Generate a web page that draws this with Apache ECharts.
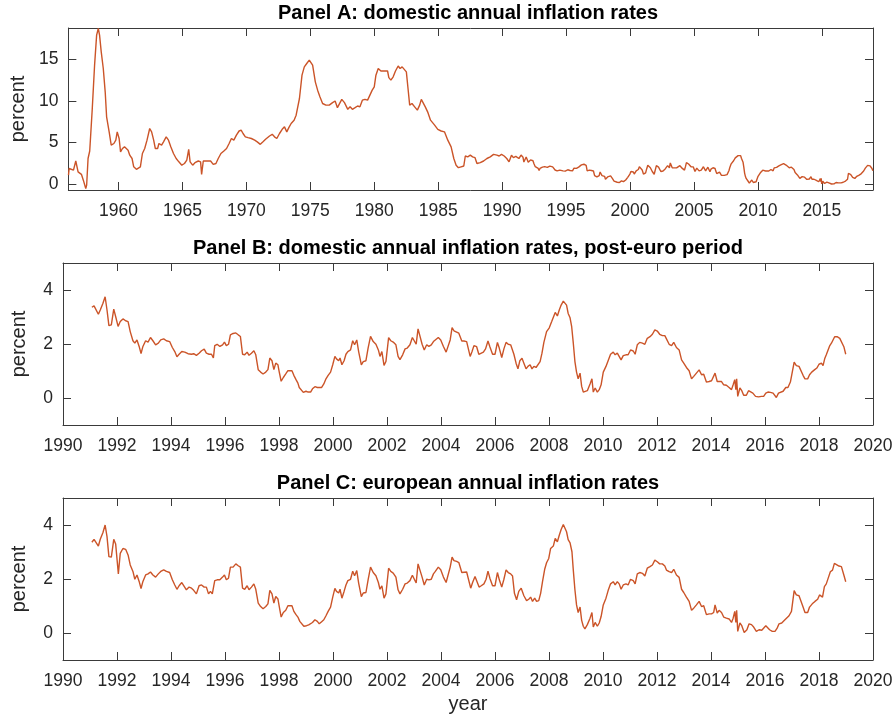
<!DOCTYPE html>
<html>
<head>
<meta charset="utf-8">
<script src="https://cdn.jsdelivr.net/npm/echarts@6/dist/echarts.min.js"></script>
<style>
  html, body { margin: 0; padding: 0; background: #fff; }
  #chart { width: 896px; height: 722px; }
</style>
</head>
<body>
<div id="chart"></div>
<script>
// panel A, part before 1991 (decimal years / percent)
var yearsEarly = [1956.09,1956.14,1956.27,1956.48,1956.66,1956.84,1957.10,1957.25,1957.44,1957.51,1957.62,1957.75,1957.95,1958.13,1958.29,1958.42,1958.52,1958.65,1958.81,1958.96,
  1959.07,1959.17,1959.27,1959.43,1959.64,1959.79,1959.90,1960.05,1960.16,1960.31,1960.47,1960.62,1960.75,1960.88,1961.06,1961.19,1961.40,1961.55,1961.71,1961.87,
  1962.05,1962.23,1962.44,1962.59,1962.75,1962.88,1963.06,1963.16,1963.37,1963.52,1963.73,1963.91,1964.09,1964.30,1964.51,1964.72,1964.95,1965.16,1965.34,1965.49,
  1965.60,1965.80,1965.98,1966.24,1966.42,1966.50,1966.63,1966.89,1967.20,1967.41,1967.62,1967.80,1968.01,1968.24,1968.45,1968.65,1968.83,1969.02,1969.22,1969.43,
  1969.59,1969.74,1969.92,1970.13,1970.39,1970.65,1970.85,1971.09,1971.30,1971.50,1971.81,1972.02,1972.20,1972.38,1972.59,1972.80,1972.98,1973.16,1973.32,1973.50,
  1973.73,1973.89,1974.04,1974.15,1974.35,1974.53,1974.72,1974.92,1975.05,1975.18,1975.39,1975.57,1975.75,1975.96,1976.22,1976.48,1976.61,1976.74,1976.94,1977.12,
  1977.25,1977.46,1977.67,1977.93,1978.11,1978.29,1978.50,1978.70,1978.88,1979.07,1979.27,1979.48,1979.66,1979.84,1980.00,1980.13,1980.31,1980.52,1980.83,1981.04,
  1981.14,1981.30,1981.48,1981.66,1981.87,1982.02,1982.18,1982.33,1982.51,1982.64,1982.77,1982.95,1983.16,1983.37,1983.55,1983.68,1983.83,1983.99,1984.20,1984.40,
  1984.72,1984.97,1985.23,1985.49,1985.75,1986.01,1986.22,1986.40,1986.58,1986.79,1987.00,1987.12,1987.31,1987.51,1987.69,1987.88,1988.03,1988.29,1988.55,1988.81,
  1989.07,1989.33,1989.59,1989.77,1989.95,1990.16,1990.36,1990.54,1990.73,1990.88];
var inflEarly = [1.1,1.9,2.1,1.7,2.8,1.5,1.2,0.5,-0.5,-0.1,3.1,4.0,9.1,14.3,17.9,18.7,17.9,15.9,13.9,11.1,
  8.1,7.9,6.3,4.7,4.9,5.3,6.3,5.5,3.9,4.3,4.5,4.7,4.1,3.5,3.1,2.1,1.8,1.7,2.1,3.7,
  4.3,5.3,6.7,6.3,5.3,4.3,4.3,4.9,4.7,5.1,5.7,5.3,4.5,3.7,3.1,2.7,2.3,2.5,2.9,4.2,
  2.7,2.3,2.6,2.8,2.7,1.2,2.8,2.8,2.8,2.4,2.5,3.1,3.7,4.0,4.3,4.9,5.5,5.3,5.9,6.4,
  6.5,6.1,5.7,5.6,5.5,5.3,5.1,4.8,5.1,5.4,5.8,6.0,5.7,5.5,6.1,6.6,6.9,6.3,6.8,7.3,
  7.7,8.3,8.5,10.3,13.1,14.1,14.5,14.9,15.1,14.3,12.3,11.3,10.5,9.7,9.5,9.5,9.3,9.8,10.0,9.2,
  9.1,10.2,9.8,9.0,9.3,9.0,9.2,9.4,9.3,10.1,10.2,10.1,10.7,11.3,11.7,13.1,13.9,13.6,13.6,13.6,
  12.8,12.5,12.9,13.6,14.2,13.9,14.1,13.9,13.5,11.5,9.5,9.7,9.3,8.9,9.5,10.2,10.4,9.3,8.6,7.7,
  7.1,6.6,6.4,6.3,5.3,4.5,3.1,2.3,2.0,2.1,2.2,3.4,3.3,3.5,3.3,3.2,2.5,2.6,2.8,3.1,
  3.3,3.6,3.5,3.4,3.6,3.4,3.1,2.7,3.5,3.2];

// domestic, post-euro period (panel B, also the tail of panel A)
var yearsDom = [1991.07,1991.15,1991.21,1991.31,1991.38,1991.48,1991.56,1991.63,1991.70,1991.79,1991.88,1991.95,1992.04,1992.12,1992.22,1992.32,1992.41,1992.49,1992.59,1992.66,
  1992.74,1992.82,1992.89,1992.96,1993.06,1993.15,1993.24,1993.33,1993.43,1993.53,1993.62,1993.73,1993.83,1993.95,1994.05,1994.14,1994.22,1994.30,1994.40,1994.51,
  1994.63,1994.76,1994.84,1994.94,1995.04,1995.13,1995.23,1995.31,1995.41,1995.50,1995.57,1995.62,1995.71,1995.81,1995.91,1995.98,1996.05,1996.13,1996.20,1996.30,
  1996.40,1996.49,1996.57,1996.65,1996.73,1996.82,1996.89,1996.98,1997.07,1997.14,1997.23,1997.32,1997.41,1997.51,1997.59,1997.66,1997.74,1997.81,1997.88,1997.96,
  1998.01,1998.08,1998.16,1998.25,1998.33,1998.40,1998.48,1998.55,1998.63,1998.70,1998.75,1998.82,1998.90,1999.00,1999.08,1999.17,1999.24,1999.33,1999.42,1999.49,
  1999.58,1999.66,1999.74,1999.82,1999.91,1999.99,2000.07,2000.13,2000.21,2000.26,2000.33,2000.41,2000.48,2000.55,2000.65,2000.73,2000.80,2000.88,2000.95,2001.05,
  2001.12,2001.22,2001.30,2001.39,2001.49,2001.59,2001.68,2001.74,2001.81,2001.89,2001.96,2002.06,2002.14,2002.23,2002.33,2002.41,2002.48,2002.58,2002.67,2002.75,
  2002.85,2002.94,2003.00,2003.08,2003.15,2003.22,2003.30,2003.38,2003.47,2003.55,2003.64,2003.72,2003.79,2003.90,2003.99,2004.09,2004.19,2004.26,2004.34,2004.41,
  2004.48,2004.58,2004.66,2004.77,2004.85,2004.95,2005.01,2005.08,2005.15,2005.22,2005.32,2005.40,2005.47,2005.57,2005.65,2005.74,2005.81,2005.91,2006.00,2006.09,
  2006.16,2006.25,2006.33,2006.41,2006.49,2006.58,2006.65,2006.70,2006.78,2006.85,2006.92,2007.00,2007.07,2007.15,2007.22,2007.30,2007.37,2007.44,2007.52,2007.59,
  2007.67,2007.74,2007.81,2007.91,2008.01,2008.10,2008.16,2008.23,2008.31,2008.38,2008.45,2008.53,2008.60,2008.65,2008.71,2008.78,2008.84,2008.90,2008.96,2009.02,
  2009.08,2009.15,2009.21,2009.27,2009.33,2009.42,2009.52,2009.59,2009.64,2009.71,2009.79,2009.86,2009.93,2010.01,2010.11,2010.19,2010.28,2010.38,2010.45,2010.53,
  2010.60,2010.67,2010.75,2010.85,2010.93,2011.02,2011.12,2011.19,2011.27,2011.36,2011.46,2011.55,2011.64,2011.74,2011.83,2011.92,2012.01,2012.10,2012.20,2012.29,
  2012.35,2012.45,2012.54,2012.62,2012.72,2012.82,2012.91,2012.99,2013.09,2013.19,2013.28,2013.36,2013.46,2013.56,2013.65,2013.73,2013.83,2013.93,2014.02,2014.08,
  2014.15,2014.23,2014.30,2014.39,2014.47,2014.57,2014.67,2014.76,2014.82,2014.88,2014.92,2014.95,2014.99,2015.07,2015.14,2015.21,2015.31,2015.39,2015.46,2015.55,
  2015.65,2015.76,2015.87,2015.95,2016.03,2016.11,2016.20,2016.30,2016.37,2016.42,2016.50,2016.57,2016.67,2016.77,2016.85,2016.94,2017.01,2017.08,2017.16,2017.26,
  2017.33,2017.41,2017.48,2017.58,2017.65,2017.73,2017.83,2017.92,2018.00,2018.09,2018.15,2018.21,2018.27,2018.34,2018.40,2018.46,2018.52,2018.58,2018.67,2018.77,
  2018.84,2018.92,2018.99];
var inflDom = [3.36,3.41,3.36,3.10,3.26,3.51,3.75,3.26,2.68,2.71,3.29,3.02,2.65,2.83,2.93,2.86,2.83,2.46,2.12,2.03,
  2.15,1.91,1.65,1.91,2.12,2.07,2.24,2.12,1.97,2.03,2.15,2.19,2.12,2.09,1.87,1.72,1.53,1.62,1.72,1.70,
  1.64,1.62,1.64,1.58,1.66,1.75,1.81,1.66,1.62,1.62,1.48,1.94,1.99,1.91,1.97,2.07,1.94,1.99,2.34,2.39,
  2.41,2.34,2.28,1.62,1.60,1.70,1.58,1.66,1.75,1.60,1.05,0.96,0.89,0.96,1.05,1.48,1.38,1.05,1.29,1.23,
  0.96,0.62,0.76,0.89,1.01,0.96,1.01,0.84,0.68,0.55,0.39,0.37,0.21,0.25,0.22,0.22,0.34,0.42,0.39,0.32,
  0.39,0.52,0.71,0.84,0.96,1.23,1.54,1.45,1.38,1.48,1.23,1.38,1.62,1.72,1.78,2.12,1.97,2.15,1.72,1.23,
  1.35,1.38,1.85,2.28,2.09,1.99,1.78,1.54,1.72,1.21,1.35,2.24,2.12,2.07,1.97,1.54,1.42,1.60,1.82,1.85,
  1.97,2.24,2.28,1.99,2.56,2.52,1.99,1.78,1.97,1.91,1.97,2.09,2.14,2.24,2.15,1.91,1.70,1.70,2.15,2.61,
  2.49,2.44,2.40,2.11,2.11,2.09,2.06,1.54,1.72,1.94,1.90,1.62,1.68,1.70,1.82,2.11,1.90,1.62,1.62,2.06,
  1.84,1.50,1.82,2.06,1.99,1.97,1.90,1.62,1.29,1.08,1.38,1.47,1.29,1.08,1.17,1.23,1.08,1.17,1.13,1.17,
  1.35,1.66,2.06,2.46,2.60,2.83,2.89,3.17,3.04,3.26,3.44,3.59,3.60,3.44,3.13,2.97,2.64,2.03,1.35,0.96,
  0.71,0.92,0.43,0.22,0.15,0.27,0.52,0.71,0.22,0.37,0.22,0.31,0.49,0.96,1.17,1.38,1.62,1.70,1.60,1.66,
  1.60,1.41,1.57,1.60,1.60,1.78,1.74,1.62,1.97,2.06,2.03,1.99,2.21,2.27,2.36,2.52,2.48,2.36,2.31,2.31,
  2.19,1.99,1.94,2.06,1.87,1.78,1.41,1.29,1.13,1.01,0.71,0.80,0.92,1.04,0.86,0.88,0.59,0.61,0.64,0.64,
  0.92,0.61,0.68,0.61,0.49,0.47,0.39,0.31,0.49,0.68,0.31,0.71,0.06,0.37,0.27,0.10,0.10,0.27,0.27,0.18,
  0.06,0.04,0.06,0.06,0.18,0.22,0.21,0.18,0.15,0.02,0.18,0.25,0.25,0.39,0.39,0.59,0.61,1.33,1.20,1.17,
  1.17,0.84,0.71,0.71,0.86,0.96,1.04,1.11,1.25,1.29,1.20,1.45,1.60,1.66,1.94,2.03,2.06,2.27,2.27,2.21,
  2.19,1.90,1.62];

// european (panel C)
var yearsEuro = [1991.07,1991.15,1991.21,1991.31,1991.38,1991.48,1991.56,1991.63,1991.70,1991.79,1991.88,1991.95,1992.05,1992.12,1992.22,1992.32,1992.41,1992.49,1992.59,1992.66,
  1992.74,1992.82,1992.89,1992.96,1993.06,1993.15,1993.24,1993.33,1993.43,1993.53,1993.62,1993.73,1993.83,1993.95,1994.05,1994.14,1994.22,1994.30,1994.40,1994.47,
  1994.57,1994.67,1994.76,1994.84,1994.94,1995.04,1995.13,1995.23,1995.31,1995.39,1995.46,1995.53,1995.62,1995.71,1995.81,1995.91,1995.98,1996.05,1996.13,1996.20,
  1996.30,1996.40,1996.49,1996.57,1996.65,1996.73,1996.82,1996.89,1996.98,1997.07,1997.14,1997.23,1997.32,1997.41,1997.51,1997.59,1997.66,1997.74,1997.81,1997.88,
  1997.96,1998.01,1998.08,1998.16,1998.25,1998.33,1998.40,1998.48,1998.55,1998.63,1998.70,1998.77,1998.84,1998.92,1999.02,1999.10,1999.17,1999.24,1999.33,1999.42,
  1999.49,1999.58,1999.66,1999.74,1999.82,1999.91,1999.99,2000.07,2000.13,2000.21,2000.26,2000.33,2000.41,2000.48,2000.55,2000.65,2000.73,2000.80,2000.88,2000.95,
  2001.05,2001.12,2001.22,2001.30,2001.39,2001.49,2001.59,2001.68,2001.74,2001.81,2001.89,2001.96,2002.06,2002.14,2002.23,2002.33,2002.41,2002.48,2002.58,2002.67,
  2002.75,2002.85,2002.94,2003.00,2003.08,2003.15,2003.22,2003.30,2003.38,2003.47,2003.55,2003.64,2003.72,2003.79,2003.90,2003.99,2004.09,2004.19,2004.26,2004.34,
  2004.41,2004.48,2004.58,2004.66,2004.77,2004.95,2005.01,2005.10,2005.17,2005.26,2005.32,2005.41,2005.49,2005.59,2005.67,2005.74,2005.81,2005.91,2006.00,2006.09,
  2006.16,2006.25,2006.33,2006.41,2006.49,2006.58,2006.65,2006.72,2006.80,2006.88,2006.97,2007.07,2007.17,2007.25,2007.32,2007.39,2007.47,2007.54,2007.62,2007.69,
  2007.76,2007.84,2007.91,2007.99,2008.06,2008.16,2008.23,2008.31,2008.38,2008.45,2008.53,2008.60,2008.65,2008.71,2008.78,2008.85,2008.90,2008.96,2009.02,2009.08,
  2009.15,2009.21,2009.27,2009.33,2009.42,2009.52,2009.59,2009.64,2009.71,2009.79,2009.86,2009.93,2010.01,2010.11,2010.19,2010.28,2010.38,2010.45,2010.53,2010.60,
  2010.67,2010.75,2010.85,2010.93,2011.02,2011.12,2011.19,2011.27,2011.36,2011.46,2011.55,2011.64,2011.74,2011.83,2011.92,2012.01,2012.10,2012.20,2012.29,2012.35,
  2012.45,2012.54,2012.62,2012.72,2012.82,2012.91,2012.99,2013.09,2013.19,2013.28,2013.36,2013.46,2013.56,2013.65,2013.73,2013.83,2013.93,2014.02,2014.10,2014.15,
  2014.23,2014.30,2014.39,2014.47,2014.57,2014.67,2014.76,2014.82,2014.88,2014.92,2014.95,2014.99,2015.07,2015.14,2015.23,2015.33,2015.41,2015.50,2015.58,2015.68,
  2015.78,2015.88,2015.95,2016.03,2016.10,2016.17,2016.27,2016.37,2016.45,2016.52,2016.62,2016.72,2016.79,2016.89,2016.98,2017.08,2017.16,2017.26,2017.33,2017.41,
  2017.48,2017.58,2017.65,2017.75,2017.85,2017.95,2018.02,2018.13,2018.20,2018.27,2018.35,2018.42,2018.50,2018.57,2018.64,2018.74,2018.83,2018.92,2018.99];
var inflEuro = [3.36,3.47,3.45,3.22,3.47,3.72,4.00,3.57,2.83,2.81,3.47,3.30,2.19,2.95,3.13,3.10,2.89,2.52,2.28,1.99,
  2.15,1.91,1.65,1.91,2.15,2.19,2.26,2.15,2.07,2.19,2.28,2.34,2.28,2.24,1.97,1.78,1.62,1.75,1.87,1.82,
  1.60,1.70,1.66,1.58,1.45,1.75,1.78,1.70,1.70,1.45,1.54,1.45,1.94,1.97,1.97,2.07,2.15,1.97,2.03,2.44,
  2.44,2.56,2.49,2.44,1.66,1.62,1.75,1.60,1.70,1.82,1.62,1.11,0.98,0.90,0.98,1.08,1.58,1.45,1.11,1.35,
  1.26,0.98,0.59,0.76,0.84,1.01,0.96,1.01,0.80,0.68,0.59,0.43,0.37,0.25,0.27,0.30,0.25,0.39,0.49,0.43,
  0.34,0.42,0.49,0.64,0.80,0.96,1.33,1.65,1.54,1.48,1.62,1.29,1.54,1.78,1.94,1.99,2.29,2.12,2.31,1.85,
  1.35,1.48,1.50,1.97,2.44,2.24,2.12,1.87,1.62,1.75,1.29,1.45,2.40,2.28,2.22,2.07,1.60,1.45,1.62,1.82,
  1.85,1.94,2.14,2.14,1.85,2.56,2.56,2.07,1.78,1.99,1.97,1.99,2.19,2.28,2.44,2.34,2.07,1.87,1.94,2.44,
  2.81,2.68,2.65,2.61,2.24,2.26,2.24,1.66,1.87,2.09,2.03,1.70,1.75,1.82,1.99,2.29,2.03,1.75,1.75,2.24,
  1.97,1.70,1.99,2.34,2.24,2.19,2.11,1.47,1.23,1.54,1.66,1.38,1.20,1.25,1.33,1.17,1.29,1.17,1.20,1.47,
  1.90,2.36,2.60,2.76,3.13,3.22,3.50,3.38,3.62,3.83,4.02,4.02,3.75,3.46,3.34,3.01,2.33,1.60,1.04,0.76,
  0.96,0.47,0.25,0.15,0.31,0.55,0.76,0.22,0.39,0.25,0.37,0.61,1.04,1.29,1.57,1.82,1.90,1.78,1.90,1.82,
  1.62,1.78,1.82,1.78,1.99,1.94,1.82,2.19,2.24,2.21,2.11,2.40,2.46,2.52,2.70,2.64,2.56,2.56,2.48,2.33,
  2.27,2.24,2.36,2.15,2.06,1.62,1.50,1.33,1.17,0.84,0.92,1.04,1.17,0.98,1.01,0.68,0.71,0.71,0.76,1.04,
  0.74,0.84,0.76,0.59,0.55,0.52,0.39,0.55,0.80,0.39,0.84,0.06,0.37,0.27,0.02,0.12,0.34,0.31,0.22,0.06,
  0.12,0.10,0.15,0.27,0.31,0.12,0.06,0.06,0.18,0.34,0.37,0.47,0.47,0.64,0.80,1.57,1.41,1.38,1.38,0.96,
  0.76,0.76,0.96,1.08,1.17,1.25,1.41,1.33,1.72,1.82,2.06,2.27,2.33,2.58,2.56,2.48,2.46,2.15,1.90];

var titles = ['Panel A: domestic annual inflation rates',
  'Panel B: domestic annual inflation rates, post-euro period',
  'Panel C: european annual inflation rates'];
var xTicksA = [1960,1965,1970,1975,1980,1985,1990,1995,2000,2005,2010,2015];
var yTicksA = [0,5,10,15];
var yTicksBC = [0,2,4];

function pairs(xs, ys){
  var out = [];
  for(var i = 0; i < xs.length; i++){ out.push([xs[i], ys[i]]); }
  return out;
}
function plain(v){ return String(v); }

var font = 'Liberation Sans, Arial, Helvetica, sans-serif';
var axisColor = '#262626';
var boxColor = '#3a3a3a';
var lineColor = '#CB5428';

var grids = [
  {left: 63, top: 28, width: 810, height: 162},
  {left: 63, top: 263, width: 810, height: 162},
  {left: 63, top: 498, width: 810, height: 162}
];
var xRanges = [[1956.08, 2019.0], [1990, 2020], [1990, 2020]];
var yRanges = [[-0.68, 18.76], [-1, 5], [-1, 5]];

var xAxes = [], yAxes = [], series = [], titleOpts = [];
var panelData = [
  pairs(yearsEarly.concat(yearsDom), inflEarly.concat(inflDom)),
  pairs(yearsDom, inflDom),
  pairs(yearsEuro, inflEuro)
];

for(var p = 0; p < 3; p++){
  var xTicks = p === 0 ? xTicksA : null;
  var yTicks = p === 0 ? yTicksA : yTicksBC;
  var sides = ['bottom', 'top'];
  for(var s = 0; s < 2; s++){
    var ax = {
      type: 'value', gridIndex: p, position: sides[s],
      min: xRanges[p][0], max: xRanges[p][1],
      splitLine: {show: false},
      axisLine: {show: true, onZero: false, lineStyle: {color: boxColor, width: 1}},
      axisTick: {show: true, inside: true, length: 8, lineStyle: {color: boxColor}},
      axisLabel: {show: s === 0, color: axisColor, fontSize: 17.5, fontFamily: font, margin: 12, formatter: plain}
    };
    if(xTicks){
      ax.axisTick.customValues = xTicks;
      ax.axisLabel.customValues = xTicks;
    } else {
      ax.interval = 2;
    }
    if(p === 2 && s === 0){
      ax.name = 'year';
      ax.nameLocation = 'middle';
      ax.nameGap = 34;
      ax.nameTextStyle = {color: axisColor, fontSize: 20, fontFamily: font};
    }
    xAxes.push(ax);
  }
  var ysides = ['left', 'right'];
  for(var s2 = 0; s2 < 2; s2++){
    var ay = {
      type: 'value', gridIndex: p, position: ysides[s2],
      min: yRanges[p][0], max: yRanges[p][1],
      splitLine: {show: false},
      axisLine: {show: true, onZero: false, lineStyle: {color: boxColor, width: 1}},
      axisTick: {show: true, inside: true, length: 8, lineStyle: {color: boxColor}, customValues: yTicks},
      axisLabel: {show: s2 === 0, color: axisColor, fontSize: 17.5, fontFamily: font, margin: 10, customValues: yTicks, formatter: plain}
    };
    if(s2 === 0){
      ay.name = 'percent';
      ay.nameLocation = 'middle';
      ay.nameGap = 34;
      ay.nameTextStyle = {color: axisColor, fontSize: 20, fontFamily: font};
    }
    yAxes.push(ay);
  }
  series.push({
    type: 'line', xAxisIndex: p * 2, yAxisIndex: p * 2,
    data: panelData[p], showSymbol: false, symbol: 'none',
    lineStyle: {color: lineColor, width: 1.4},
    animation: false
  });
  titleOpts.push({
    text: titles[p], left: 468, top: grids[p].top - 25, textAlign: 'center', padding: 0,
    textStyle: {fontSize: 20, fontWeight: 'bold', color: '#000', fontFamily: font}
  });
}

var myChart = echarts.init(document.getElementById('chart'));
myChart.setOption({
  animation: false,
  backgroundColor: '#fff',
  title: titleOpts,
  grid: grids,
  xAxis: xAxes,
  yAxis: yAxes,
  series: series
});
</script>
</body>
</html>
